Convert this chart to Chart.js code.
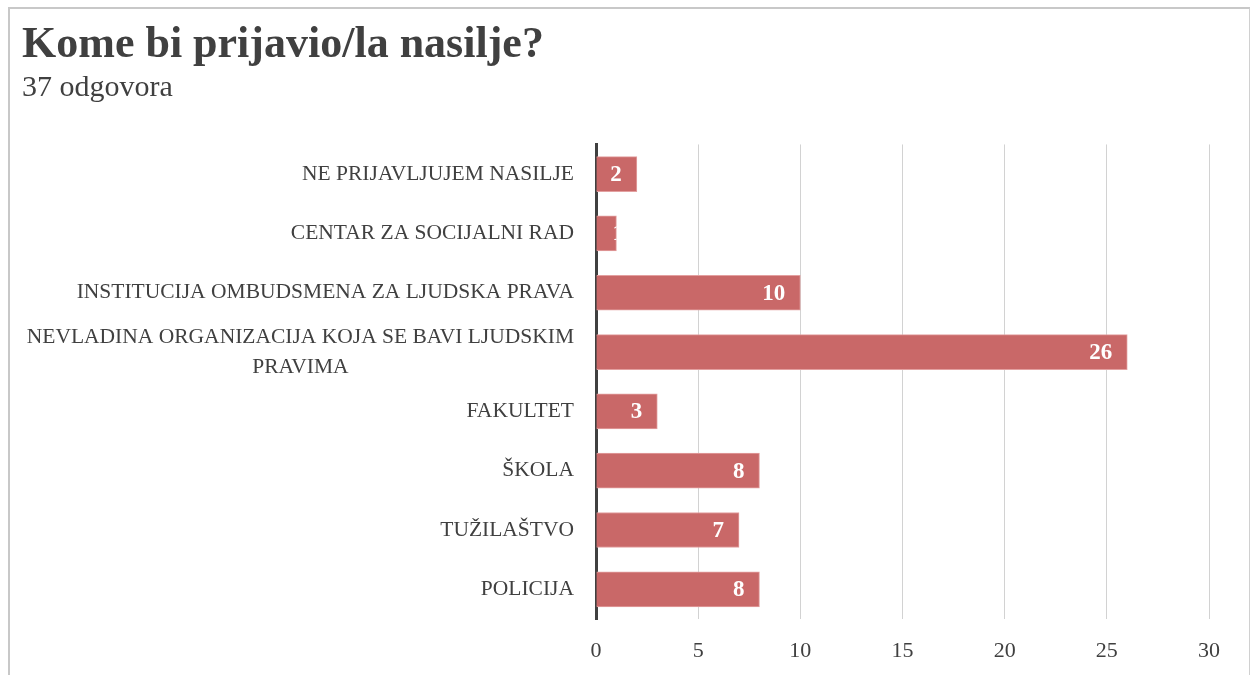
<!DOCTYPE html>
<html>
<head>
<meta charset="utf-8">
<script src="https://cdn.jsdelivr.net/npm/chart.js@4"></script>
<style>
  html, body { margin: 0; padding: 0; background: #fff; }
  .frame {
    position: absolute; left: 8px; top: 7px; width: 1239px; height: 700px;
    border-top: 2px solid #c8c8c8; border-left: 2px solid #c8c8c8; border-right: 2px solid #d0d0d0;
  }
  #wrap { position: absolute; left: 0; top: 0; width: 1250px; height: 675px; }
</style>
</head>
<body>
<div class="frame"></div>
<div id="wrap"><canvas id="chart"></canvas></div>
<script>
const categories = [
  "NE PRIJAVLJUJEM NASILJE",
  "CENTAR ZA SOCIJALNI RAD",
  "INSTITUCIJA OMBUDSMENA ZA LJUDSKA PRAVA",
  ["NEVLADINA ORGANIZACIJA KOJA SE BAVI LJUDSKIM", "PRAVIMA"],
  "FAKULTET",
  "ŠKOLA",
  "TUŽILAŠTVO",
  "POLICIJA"
];
const answers = [2, 1, 10, 26, 3, 8, 7, 8];
const xTicks = [0, 5, 10, 15, 20, 25, 30];

const textColor = "#404040";
const serif = "'Liberation Serif', 'DejaVu Serif', serif";

// y labels drawn by hand so the two-line label can be centered under itself
const categoryLabels = {
  id: 'categoryLabels',
  afterDraw(chart) {
    const ctx = chart.ctx;
    const y = chart.scales.y;
    const right = chart.chartArea.left - 22;
    ctx.save();
    ctx.font = "21.5px " + serif;
    ctx.fillStyle = textColor;
    ctx.textBaseline = 'middle';
    ctx.textAlign = 'center';
    categories.forEach((label, i) => {
      const cy = y.getPixelForValue(i);
      const lines = Array.isArray(label) ? label : [label];
      const w = Math.max(...lines.map(l => ctx.measureText(l).width));
      const cx = right - w / 2;
      lines.forEach((l, j) => {
        ctx.fillText(l, cx, cy + (j - (lines.length - 1) / 2) * 30);
      });
    });
    ctx.restore();
  }
};

// white values at the end of each bar, clipped to the bar
const barValues = {
  id: 'barValues',
  afterDatasetsDraw(chart) {
    const ctx = chart.ctx;
    const meta = chart.getDatasetMeta(0);
    ctx.save();
    ctx.font = "bold 23px " + serif;
    ctx.fillStyle = "#ffffff";
    ctx.textAlign = 'left';
    ctx.textBaseline = 'middle';
    meta.data.forEach((bar, i) => {
      const p = bar.getProps(['x', 'y', 'base', 'height'], true);
      const txt = String(answers[i]);
      const w = ctx.measureText(txt).width;
      let left = p.x - 15 - w;
      if (left < p.base + 2) left = p.x - 4; // too narrow: only a sliver shows
      ctx.save();
      ctx.beginPath();
      ctx.rect(p.base, p.y - p.height / 2, p.x - p.base, p.height);
      ctx.clip();
      ctx.fillText(txt, left, p.y + 1);
      ctx.restore();
    });
    ctx.restore();
  }
};

new Chart(document.getElementById('chart'), {
  type: 'bar',
  data: {
    labels: categories.map(c => Array.isArray(c) ? c.join(' ') : c),
    datasets: [{
      data: answers,
      backgroundColor: "#c96868",
      borderColor: "#e3a0a0",
      borderWidth: 1,
      barThickness: 35
    }]
  },
  options: {
    indexAxis: 'y',
    responsive: true,
    maintainAspectRatio: false,
    animation: false,
    layout: { padding: { left: 22, right: 41, top: 18, bottom: 13 } },
    plugins: {
      legend: { display: false },
      tooltip: { enabled: false },
      title: {
        display: true,
        text: "Kome bi prijavio/la nasilje?",
        align: 'start',
        color: textColor,
        font: { family: serif, size: 44, weight: 'bold', lineHeight: 1.26 },
        padding: { top: 0, bottom: 0 }
      },
      subtitle: {
        display: true,
        text: "37 odgovora",
        align: 'start',
        color: textColor,
        font: { family: serif, size: 30, lineHeight: 1.0 },
        padding: { top: 0, bottom: 41 }
      }
    },
    scales: {
      x: {
        min: 0,
        max: 30,
        afterBuildTicks: scale => { scale.ticks = xTicks.map(v => ({ value: v })); },
        ticks: { color: textColor, font: { family: serif, size: 22 }, padding: 19 },
        grid: {
          color: ctx => ctx.tick && ctx.tick.value === 0 ? 'rgba(0,0,0,0)' : '#d2d2d2',
          drawTicks: false
        },
        border: { display: false },
        afterFit: scale => { scale.height = 43; }
      },
      y: {
        ticks: { display: false },
        grid: { display: false, drawTicks: false },
        border: { display: true, color: textColor, width: 3 },
        afterFit: scale => { scale.width = 574; }
      }
    }
  },
  plugins: [categoryLabels, barValues]
});
</script>
</body>
</html>
